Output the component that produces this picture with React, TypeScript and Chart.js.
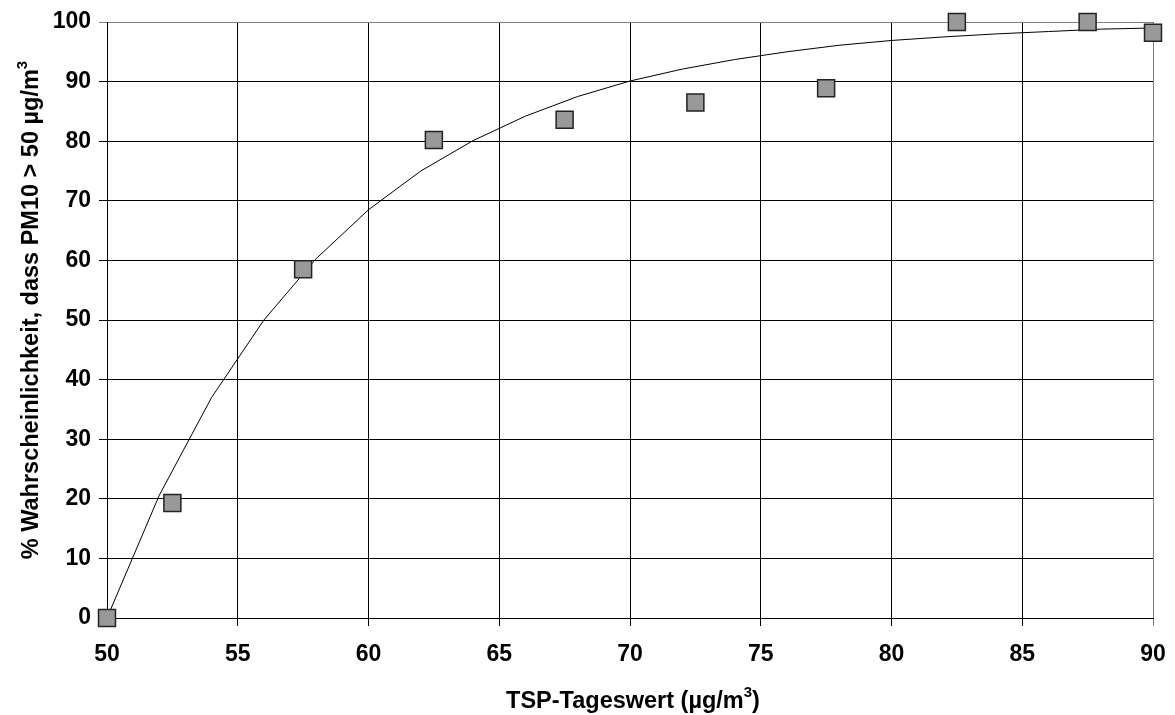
import React, { useEffect, useRef } from 'react';
import { Chart, registerables } from 'chart.js';

Chart.register(...registerables);

// Measured points (TSP day value vs. probability PM10 > 50 µg/m³)
const tspValues = [50, 52.5, 57.5, 62.5, 67.5, 72.5, 77.5, 82.5, 87.5, 90];
const probValues = [0, 19.3, 58.5, 80.2, 83.6, 86.5, 88.9, 100, 100, 98.2];

// Fitted curve
const curveX = [50, 52, 54, 56, 58, 60, 62, 64, 66, 68, 70, 72, 74, 76, 78, 80, 82, 84, 86, 88, 90];
const curveY = [0, 20.6, 37, 50, 60.3, 68.5, 75, 80.1, 84.2, 87.5, 90.1, 92.1, 93.7, 95, 96.1, 96.9, 97.5, 98, 98.4, 98.8, 99];

const xTicks = [50, 55, 60, 65, 70, 75, 80, 85, 90];
const yTicks = [0, 10, 20, 30, 40, 50, 60, 70, 80, 90, 100];

// Axis titles: [text, superscript?]
const xTitleParts: [string, boolean][] = [['TSP-Tageswert (µg/m', false], ['3', true], [')', false]];
const yTitleParts: [string, boolean][] = [['% Wahrscheinlichkeit, dass PM10 > 50 µg/m', false], ['3', true]];

const FONT = '"Liberation Sans", Arial, sans-serif';
const TITLE_SIZE = 23.5;
const SUP_SIZE = 15;

function drawRich(ctx: CanvasRenderingContext2D, parts: [string, boolean][], cx: number, baseY: number) {
  const mainFont = `bold ${TITLE_SIZE}px ${FONT}`;
  const supFont = `bold ${SUP_SIZE}px ${FONT}`;
  let total = 0;
  const widths = parts.map(([t, sup]) => {
    ctx.font = sup ? supFont : mainFont;
    const w = ctx.measureText(t).width;
    total += w;
    return w;
  });
  let x = cx - total / 2;
  ctx.textAlign = 'left';
  ctx.textBaseline = 'alphabetic';
  parts.forEach(([t, sup], i) => {
    ctx.font = sup ? supFont : mainFont;
    ctx.fillText(t, x, sup ? baseY - 11 : baseY);
    x += widths[i];
  });
}

export default function App() {
  const ref = useRef<HTMLCanvasElement | null>(null);

  useEffect(() => {
    if (!ref.current) return;
    const titlePlugin = {
      id: 'axisTitles',
      afterDraw(chart: any) {
        const ctx = chart.ctx as CanvasRenderingContext2D;
        const area = chart.chartArea;
        ctx.save();
        ctx.fillStyle = '#000';
        drawRich(ctx, xTitleParts, (area.left + area.right) / 2 + 3, 708);
        ctx.translate(38, 310);
        ctx.rotate(-Math.PI / 2);
        drawRich(ctx, yTitleParts, 0, 0);
        ctx.restore();
      },
    };

    const chart = new Chart(ref.current, {
      type: 'scatter',
      data: {
        datasets: [
          {
            label: 'Messwerte',
            data: tspValues.map((x, i) => ({ x, y: probValues[i] })),
            pointStyle: 'rect',
            pointRadius: 12,
            pointHoverRadius: 12,
            backgroundColor: '#999999',
            borderColor: '#222222',
            borderWidth: 1.5,
            showLine: false,
            clip: false as any,
          },
          {
            label: 'Kurve',
            data: curveX.map((x, i) => ({ x, y: curveY[i] })),
            showLine: true,
            pointRadius: 0,
            borderColor: '#000000',
            borderWidth: 1,
            tension: 0,
            fill: false,
          },
        ],
      },
      options: {
        responsive: false,
        animation: false,
        events: [],
        layout: { padding: { top: 22, right: 22, left: 0, bottom: 0 } },
        plugins: {
          legend: { display: false },
          tooltip: { enabled: false },
          title: { display: false },
        },
        scales: {
          x: {
            type: 'linear',
            min: 50,
            max: 90,
            afterBuildTicks: (s: any) => {
              s.ticks = xTicks.map((v) => ({ value: v }));
            },
            afterFit: (s: any) => {
              s.height = 97;
              s.paddingLeft = 0;
              s.paddingRight = 0;
            },
            ticks: {
              color: '#000',
              font: { family: FONT, size: 23, weight: 'bold' },
              padding: 15,
              maxRotation: 0,
            },
            grid: {
              color: (c: any) => (c.tick && c.tick.value === 90 ? '#808080' : '#000000'),
              lineWidth: 1,
              tickLength: 8,
              drawTicks: true,
            },
            border: { display: true, color: '#000000', width: 1 },
          },
          y: {
            type: 'linear',
            min: 0,
            max: 100,
            afterBuildTicks: (s: any) => {
              s.ticks = yTicks.map((v) => ({ value: v }));
            },
            afterFit: (s: any) => {
              s.width = 107;
              s.paddingTop = 0;
              s.paddingBottom = 0;
            },
            ticks: {
              color: '#000',
              font: { family: FONT, size: 23, weight: 'bold' },
              padding: 8,
            },
            grid: {
              color: (c: any) => (c.tick && c.tick.value === 100 ? '#808080' : '#000000'),
              lineWidth: 1,
              tickLength: 8,
              drawTicks: true,
            },
            border: { display: true, color: '#000000', width: 1 },
          },
        },
      },
      plugins: [titlePlugin],
    } as any);

    return () => chart.destroy();
  }, []);

  return (
    <div style={{ position: 'absolute', left: 0, top: 0, width: 1175, height: 715, background: '#fff' }}>
      <canvas ref={ref} width={1175} height={715} style={{ display: 'block' }} />
    </div>
  );
}
